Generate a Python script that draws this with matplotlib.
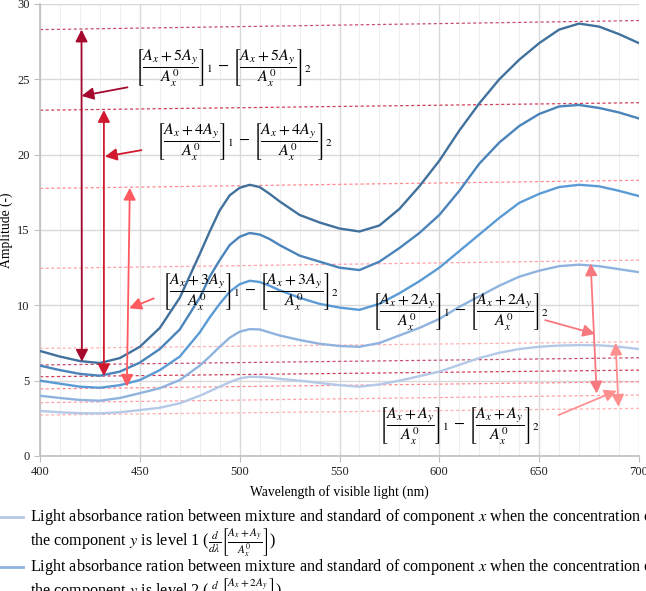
import numpy as np
import matplotlib
matplotlib.use("Agg")
import matplotlib.pyplot as plt
from matplotlib.lines import Line2D

plt.rcParams["font.family"] = ["Liberation Serif", "DejaVu Serif"]
plt.rcParams["mathtext.fontset"] = "stix"

# wavelength (nm); finer steps around the first peak
wavelength = [400, 410, 420, 430, 440, 450, 460, 470, 480, 485, 490, 495, 500, 505,
              510, 515, 520, 530, 540, 550, 560, 570, 580, 590, 600,
              610, 620, 630, 640, 650, 660, 670, 680, 690, 700]

level_1 = [2.99, 2.9, 2.84, 2.83, 2.9, 3.05, 3.2, 3.5, 4.0, 4.3, 4.6, 4.9, 5.15, 5.26,
           5.25, 5.2, 5.12, 5.0, 4.85, 4.7, 4.6, 4.75, 5.0, 5.3, 5.6,
           6.05, 6.5, 6.85, 7.1, 7.25, 7.33, 7.36, 7.35, 7.25, 7.1]
level_2 = [4.0, 3.85, 3.72, 3.67, 3.85, 4.17, 4.5, 5.04, 6.0, 6.6, 7.25, 7.85, 8.25, 8.42,
           8.4, 8.2, 8.0, 7.7, 7.45, 7.3, 7.25, 7.5, 8.0, 8.5, 9.1,
           9.9, 10.6, 11.3, 11.9, 12.3, 12.6, 12.7, 12.6, 12.4, 12.2]
level_3 = [5.0, 4.8, 4.6, 4.53, 4.7, 5.04, 5.7, 6.6, 8.2, 9.2, 10.1, 10.9, 11.4, 11.63,
           11.55, 11.3, 11.0, 10.5, 10.1, 9.85, 9.7, 10.1, 10.8, 11.6, 12.5,
           13.6, 14.7, 15.8, 16.8, 17.4, 17.85, 18.0, 17.9, 17.6, 17.25]
level_4 = [6.0, 5.7, 5.45, 5.33, 5.6, 6.2, 7.1, 8.4, 10.5, 11.9, 13.0, 14.0, 14.55, 14.8,
           14.7, 14.4, 14.0, 13.3, 12.9, 12.5, 12.34, 12.9, 13.8, 14.8, 16.0,
           17.6, 19.4, 20.8, 21.9, 22.7, 23.2, 23.3, 23.1, 22.8, 22.4]
level_5 = [6.97, 6.6, 6.3, 6.17, 6.5, 7.25, 8.5, 10.5, 13.4, 14.9, 16.3, 17.3, 17.8, 18.0,
           17.85, 17.4, 16.9, 16.0, 15.5, 15.1, 14.9, 15.3, 16.4, 17.9, 19.6,
           21.6, 23.4, 25.0, 26.3, 27.4, 28.3, 28.7, 28.5, 28.0, 27.4]
series = [level_1, level_2, level_3, level_4, level_5]
curve_colors = ["#b4c9e8", "#8fb3de", "#5b9bd5", "#4a84bb", "#41719c"]

# dashed reference lines: value at 400 nm and at 700 nm (level 1..5)
top_left = [7.14, 12.45, 17.76, 22.95, 28.3]
top_right = [7.58, 13.0, 18.3, 23.45, 28.9]
bottom_left = [2.72, 3.54, 4.45, 5.26, 6.04]
bottom_right = [3.16, 4.05, 4.93, 5.7, 6.52]
dash_colors = ["#ffb0b0", "#ffa0a8", "#ff8a90", "#d0405a", "#c8506e"]

# double arrows: (x_top, y_top, x_bottom, y_bottom)
span_arrows = [(688.3, 7.52, 689.7, 3.27),
               (675.8, 12.78, 678.8, 4.15),
               (445.0, 17.8, 443.5, 4.6),
               (432.0, 22.96, 432.0, 5.3),
               (420.8, 28.3, 421.0, 6.26)]
arrow_colors = ["#ff9090", "#f7787f", "#ff5a60", "#d0182e", "#a50a2e"]

# pointer arrows from labels: (x_from, y_from, x_to, y_to)
pointers = [(659.7, 2.72, 688.8, 4.33),
            (653.0, 9.02, 678.0, 8.1),
            (457.0, 10.46, 444.7, 9.8),
            (450.8, 20.3, 432.5, 19.87),
            (443.8, 24.47, 420.8, 23.9)]

# label anchor (left, centre) in data coords
label_pos = [(570, 2.0), (566.5, 9.6), (461, 10.95), (458, 20.9), (447.5, 25.8)]
label_terms = ["A_y", "2A_y", "3A_y", "4A_y", "5A_y"]

fig = plt.figure(figsize=(6.46, 5.91), dpi=100)
ax = fig.add_axes([40 / 646, 1 - 456 / 591, 599 / 646, 452 / 591])

ax.set_xlim(400, 700)
ax.set_ylim(0, 30)
ax.set_xticks(range(400, 701, 50))
ax.set_xticks(range(400, 701, 10), minor=True)
ax.set_yticks(range(0, 31, 5))
ax.grid(True, which="major", color="#d9d9d9", lw=1.0)
ax.grid(True, which="minor", axis="x", color="#eeeeee", lw=0.8)
ax.set_axisbelow(True)
for side in ["top", "right"]:
    ax.spines[side].set_visible(False)
for side in ["left", "bottom"]:
    ax.spines[side].set_color("#bfbfbf")
    ax.spines[side].set_linewidth(1.2)
ax.tick_params(which="major", length=4, color="#bfbfbf", labelsize=9, labelcolor="#222222")
ax.tick_params(which="minor", length=0)
ax.set_xlabel("Wavelength of visible light (nm)", fontsize=9.8, labelpad=5)
ax.set_ylabel("Amplitude (-)", fontsize=9.8, labelpad=3)

for i in range(5):
    ax.plot([400, 700], [top_left[i], top_right[i]], ls=(0, (2.5, 2)), lw=0.9, color=dash_colors[i], zorder=2)
    ax.plot([400, 700], [bottom_left[i], bottom_right[i]], ls=(0, (2.5, 2)), lw=0.9, color=dash_colors[i], zorder=2)

for vals, c in zip(series, curve_colors):
    ax.plot(wavelength, vals, color=c, lw=1.7, zorder=3, solid_capstyle="round", solid_joinstyle="round")

for (x0, y0, x1, y1), c in zip(span_arrows, arrow_colors):
    ax.annotate("", xy=(x1, y1), xytext=(x0, y0), zorder=4,
                arrowprops=dict(arrowstyle="<|-|>,head_length=0.55,head_width=0.28",
                                color=c, lw=1.3, mutation_scale=13, shrinkA=0, shrinkB=0))

for (x0, y0, x1, y1), c in zip(pointers, arrow_colors):
    ax.annotate("", xy=(x1, y1), xytext=(x0, y0), zorder=4,
                arrowprops=dict(arrowstyle="-|>,head_length=0.55,head_width=0.28",
                                color=c, lw=1.3, mutation_scale=13, shrinkA=0, shrinkB=0))

for (lx, ly), term in zip(label_pos, label_terms):
    frac = r"{\left[\dfrac{A_x+%s}{A_x^0}\right]}" % term
    ax.text(lx, ly, r"$%s_{1}\,-\,%s_{2}$" % (frac, frac), fontsize=11.5, ha="left", va="center", zorder=5)

# legend below the axes (cut off by the figure edge, as in the original)
legend_colors = [curve_colors[0], curve_colors[1]]
legend_rows = [517, 567]
legend_terms = ["A_x+A_y", "A_x+2A_y"]
for i in range(2):
    yy = 1 - legend_rows[i] / 591
    fig.add_artist(Line2D([0, 23 / 646], [yy, yy], color=legend_colors[i], lw=2, transform=fig.transFigure))
    fig.text(30 / 646, yy, "Light absorbance ration between mixture and standard of component $x$ when the concentration of",
             fontsize=11.6, va="center", ha="left")
    fig.text(30 / 646, yy - 25 / 591,
             r"the component $y$ is level %d ($\frac{d}{d\lambda}\left[\frac{%s}{A_x^0}\right]$)" % (i + 1, legend_terms[i]),
             fontsize=11.6, va="center", ha="left")

fig.savefig("out.png", dpi=100)
